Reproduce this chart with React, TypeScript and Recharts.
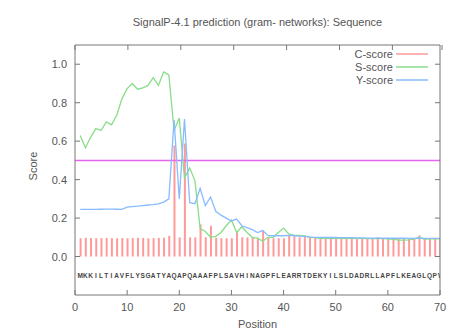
import React from 'react';
import {
  ComposedChart, Bar, Line, Scatter, XAxis, YAxis, ReferenceLine,
} from 'recharts';

const sequence = 'MKKILTIAVFLYSGATYAQAPQAAAFPLSAVHINAGPFLEARRTDEKYILSLDADRLLAPFLKEAGLQPV';

const cScore = [
  0.095, 0.097, 0.096, 0.095, 0.096, 0.097, 0.095, 0.095, 0.096, 0.095,
  0.096, 0.097, 0.097, 0.095, 0.096, 0.097, 0.098, 0.108, 0.578, 0.1,
  0.588, 0.1, 0.1, 0.167, 0.1, 0.16, 0.098, 0.095, 0.095, 0.095,
  0.13, 0.1, 0.1, 0.1, 0.098, 0.135, 0.098, 0.095, 0.095, 0.095,
  0.107, 0.105, 0.1, 0.105, 0.098, 0.096, 0.095, 0.095, 0.095, 0.096,
  0.095, 0.095, 0.095, 0.095, 0.095, 0.096, 0.095, 0.1, 0.095, 0.095,
  0.095, 0.095, 0.096, 0.095, 0.095, 0.11, 0.095, 0.095, 0.096, 0.095,
];

const sScore = [
  0.63, 0.566, 0.62, 0.665, 0.655, 0.7, 0.685, 0.735, 0.82, 0.873,
  0.9, 0.87, 0.877, 0.89, 0.93, 0.89, 0.96, 0.945, 0.655, 0.72,
  0.41, 0.46, 0.395, 0.145, 0.13, 0.1, 0.105, 0.125, 0.16, 0.19,
  0.125, 0.155, 0.125, 0.1, 0.095, 0.08, 0.1, 0.1, 0.125, 0.148,
  0.118, 0.11, 0.11, 0.108, 0.1, 0.098, 0.095, 0.095, 0.095, 0.096,
  0.095, 0.095, 0.094, 0.094, 0.094, 0.093, 0.093, 0.094, 0.093, 0.092,
  0.09, 0.085, 0.085, 0.087, 0.09, 0.1, 0.09, 0.092, 0.092, 0.092,
];

const yScore = [
  0.245, 0.245, 0.245, 0.245, 0.246, 0.247, 0.247, 0.246, 0.245, 0.257,
  0.26, 0.262, 0.265, 0.268, 0.27, 0.274, 0.283, 0.3, 0.71, 0.3,
  0.715, 0.28, 0.275, 0.355, 0.265, 0.31, 0.235, 0.215, 0.2, 0.185,
  0.195, 0.16, 0.15, 0.14, 0.125, 0.135, 0.11, 0.108, 0.108, 0.108,
  0.11, 0.108, 0.106, 0.105, 0.102, 0.1, 0.1, 0.1, 0.099, 0.099,
  0.098, 0.098, 0.098, 0.097, 0.097, 0.096, 0.096, 0.096, 0.095, 0.095,
  0.095, 0.095, 0.095, 0.094, 0.094, 0.095, 0.094, 0.094, 0.094, 0.094,
];

const xTicks = [0, 10, 20, 30, 40, 50, 60, 70];
const yTicks = [0, 0.2, 0.4, 0.6, 0.8, 1.0];
const threshold = 0.5;
const seqLevel = -0.1;

const title = 'SignalP-4.1 prediction (gram- networks): Sequence';

const data = sequence.split('').map((aa, i) => ({
  pos: i + 1,
  aa,
  c: cScore[i],
  s: sScore[i],
  y: yScore[i],
  seqY: seqLevel,
}));

const FONT = '"Liberation Sans", Arial, sans-serif';
const TEXT = '#555';
const AXIS = '#777';
const C_COLOR = '#ff9a9a';
const S_COLOR = '#88dd88';
const Y_COLOR = '#88bbff';

const BottomTick = (props: any) => {
  const { x, y, payload } = props;
  const ay = y - 6;
  return (
    <g>
      <line x1={x} y1={ay} x2={x} y2={ay - 5} stroke={AXIS} />
      <text x={x} y={ay + 16} textAnchor="middle" fill={TEXT} fontSize={11} fontFamily={FONT}>
        {payload.value}
      </text>
    </g>
  );
};

const TopTick = (props: any) => {
  const { x, y } = props;
  return <line x1={x} y1={y} x2={x} y2={y + 5} stroke={AXIS} />;
};

const LeftTick = (props: any) => {
  const { x, y, payload } = props;
  const ax = x + 7;
  return (
    <g>
      <line x1={ax} y1={y} x2={ax + 5} y2={y} stroke={AXIS} />
      <text x={ax - 8} y={y + 4} textAnchor="end" fill={TEXT} fontSize={11} fontFamily={FONT}>
        {Number(payload.value).toFixed(1)}
      </text>
    </g>
  );
};

const RightTick = (props: any) => {
  const { x, y } = props;
  return <line x1={x} y1={y} x2={x - 5} y2={y} stroke={AXIS} />;
};

const SeqLetter = (props: any) => {
  const { cx, cy, payload } = props;
  return (
    <text x={cx} y={cy + 2.5} textAnchor="middle" fill="#444" fontSize={6.5} fontWeight="bold" fontFamily={FONT}>
      {payload.aa}
    </text>
  );
};

const legendItems = [
  { name: 'C-score', color: C_COLOR },
  { name: 'S-score', color: S_COLOR },
  { name: 'Y-score', color: Y_COLOR },
];

export default function App() {
  return (
    <div style={{ position: 'absolute', left: 0, top: 0, width: 450, height: 334, background: '#fff' }}>
      <div
        style={{
          position: 'absolute', left: 75, width: 365, top: 16, textAlign: 'center',
          fontFamily: FONT, fontSize: 11, color: TEXT,
        }}
      >
        {title}
      </div>
      <div
        style={{
          position: 'absolute', left: 75, width: 365, top: 318, textAlign: 'center',
          fontFamily: FONT, fontSize: 11, color: TEXT,
        }}
      >
        Position
      </div>
      <div
        style={{
          position: 'absolute', left: 33, top: 166, transform: 'translate(-50%, -50%) rotate(-90deg)',
          fontFamily: FONT, fontSize: 11, color: TEXT, whiteSpace: 'nowrap',
        }}
      >
        Score
      </div>
      <ComposedChart
        width={450}
        height={334}
        data={data}
        margin={{ top: 44, right: 9, bottom: 0, left: 0 }}
        style={{ position: 'absolute', left: 0, top: 0 }}
      >
        <XAxis
          dataKey="pos"
          type="number"
          domain={[0, 70]}
          ticks={xTicks}
          allowDataOverflow
          height={39}
          tickLine={false}
          tickSize={0}
          tickMargin={6}
          stroke={AXIS}
          tick={<BottomTick />}
        />
        <XAxis
          xAxisId="top"
          orientation="top"
          type="number"
          domain={[0, 70]}
          ticks={xTicks}
          allowDataOverflow
          height={1}
          tickLine={false}
          tickSize={0}
          tickMargin={0}
          stroke={AXIS}
          tick={<TopTick />}
        />
        <YAxis
          type="number"
          domain={[-0.2, 1.1]}
          ticks={yTicks}
          allowDataOverflow
          width={75}
          tickLine={false}
          tickSize={0}
          tickMargin={7}
          stroke={AXIS}
          tick={<LeftTick />}
        />
        <YAxis
          yAxisId="right"
          orientation="right"
          type="number"
          domain={[-0.2, 1.1]}
          ticks={yTicks}
          allowDataOverflow
          width={1}
          tickLine={false}
          tickSize={0}
          tickMargin={0}
          stroke={AXIS}
          tick={<RightTick />}
        />
        <ReferenceLine y={threshold} stroke="#e566ee" strokeWidth={1.5} />
        <Bar dataKey="c" barSize={2} fill={C_COLOR} isAnimationActive={false} />
        <Line dataKey="s" type="linear" stroke={S_COLOR} strokeWidth={1.3} dot={false} isAnimationActive={false} />
        <Line dataKey="y" type="linear" stroke={Y_COLOR} strokeWidth={1.3} dot={false} isAnimationActive={false} />
        <Scatter dataKey="seqY" shape={<SeqLetter />} isAnimationActive={false} />
      </ComposedChart>
      <svg
        width={110}
        height={40}
        style={{ position: 'absolute', left: 330, top: 47 }}
      >
        {legendItems.map((it, i) => (
          <g key={it.name}>
            <text
              x={63}
              y={i * 13 + 11}
              textAnchor="end"
              fill={TEXT}
              fontSize={11}
              fontFamily={FONT}
            >
              {it.name}
            </text>
            <line
              x1={66}
              x2={98}
              y1={i * 13 + 7}
              y2={i * 13 + 7}
              stroke={it.color}
              strokeWidth={1.5}
            />
          </g>
        ))}
      </svg>
    </div>
  );
}
